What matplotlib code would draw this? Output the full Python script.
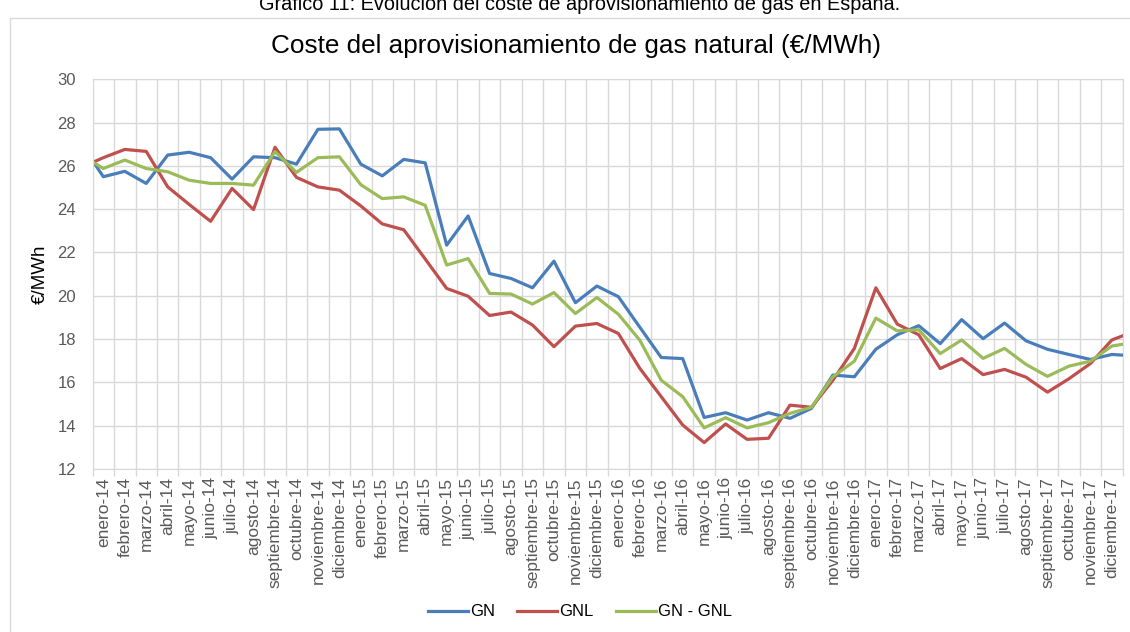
import numpy as np
import matplotlib
matplotlib.use('Agg')
import matplotlib.pyplot as plt
from matplotlib.patches import Rectangle

plt.rcParams['font.family'] = ['Liberation Sans', 'DejaVu Sans']

# Month labels (48 categories)
meses = ['enero', 'febrero', 'marzo', 'abril', 'mayo', 'junio', 'julio',
         'agosto', 'septiembre', 'octubre', 'noviembre', 'diciembre']
anios = ['14', '15', '16', '17']
etiquetas = [m + '-' + a for a in anios for m in meses]

# Series values, dic-13 .. ene-18 (first and last points fall outside the axis)
gn = [26.98,
      25.50, 25.75, 25.19, 26.50, 26.63, 26.38, 25.39, 26.42, 26.38, 26.08, 27.69, 27.71,
      26.08, 25.54, 26.30, 26.14, 22.34, 23.69, 21.03, 20.80, 20.37, 21.60, 19.68, 20.45,
      19.96, 18.55, 17.15, 17.10, 14.38, 14.60, 14.26, 14.60, 14.34, 14.80, 16.34, 16.26,
      17.53, 18.20, 18.62, 17.79, 18.90, 18.02, 18.74, 17.92, 17.53, 17.29, 17.06, 17.29,
      17.23]
gnl = [25.94,
       26.38, 26.76, 26.67, 25.03, 24.22, 23.44, 24.96, 23.98, 26.86, 25.47, 25.03, 24.88,
       24.15, 23.32, 23.05, 21.70, 20.34, 19.98, 19.09, 19.25, 18.65, 17.65, 18.60, 18.72,
       18.26, 16.65, 15.34, 14.03, 13.22, 14.08, 13.37, 13.42, 14.95, 14.85, 16.10, 17.57,
       20.37, 18.69, 18.20, 16.64, 17.10, 16.36, 16.60, 16.24, 15.55, 16.17, 16.87, 17.96,
       18.34]
gn_gnl = [26.50,
          25.88, 26.27, 25.88, 25.73, 25.34, 25.19, 25.19, 25.11, 26.66, 25.70, 26.38, 26.42,
          25.13, 24.49, 24.57, 24.18, 21.42, 21.72, 20.11, 20.08, 19.62, 20.15, 19.18, 19.92,
          19.15, 17.95, 16.10, 15.34, 13.90, 14.37, 13.90, 14.14, 14.57, 14.85, 16.26, 16.98,
          18.97, 18.38, 18.43, 17.33, 17.96, 17.11, 17.57, 16.83, 16.28, 16.75, 16.98, 17.68,
          17.84]
yticks = list(range(12, 31, 2))

x = np.arange(-1, len(etiquetas) + 1)
n = len(etiquetas)

fig = plt.figure(figsize=(11.3, 6.32), dpi=100)
ax = fig.add_axes([92.6 / 1130, 1 - 469 / 632, 1030 / 1130, (469 - 79.3) / 632])

# outer chart frame
fig.patches.append(Rectangle((10 / 1130, -0.01), 1.0, 1 - 18 / 632 + 0.01,
                             transform=fig.transFigure, fill=False,
                             edgecolor='#d9d9d9', lw=1))

ax.plot(x, gn, color='#4a7ebb', lw=2.3, label='GN', solid_joinstyle='round')
ax.plot(x, gnl, color='#c0504d', lw=2.3, label='GNL', solid_joinstyle='round')
ax.plot(x, gn_gnl, color='#9bbb59', lw=2.3, label='GN - GNL', solid_joinstyle='round')

ax.set_xlim(-0.5, n - 0.5)
ax.set_ylim(12, 30)
ax.set_yticks(yticks)
ax.set_xticks(np.arange(n))
ax.set_xticklabels(etiquetas, rotation=90, fontsize=12.5, color='#595959')
ax.set_xticks(np.arange(n + 1) - 0.5, minor=True)
ax.tick_params(axis='x', which='major', length=0, pad=6)
ax.tick_params(axis='x', which='minor', length=5, color='#d9d9d9', width=1)
ax.tick_params(axis='y', length=0, pad=12, labelsize=12, labelcolor='#595959')

ax.grid(axis='y', color='#d9d9d9', lw=1)
ax.grid(axis='x', which='minor', color='#d9d9d9', lw=1)
ax.set_axisbelow(True)
for s in ax.spines.values():
    s.set_color('#d9d9d9')

ax.set_ylabel('€/MWh', fontsize=13.5, labelpad=6)

fig.text(0.513, 1 - 10 / 632, 'Gráfico 11: Evolución del coste de aprovisionamiento de gas en España.',
         ha='center', va='baseline', fontsize=14.3)
fig.text(0.51, 1 - 46 / 632, 'Coste del aprovisionamiento de gas natural (€/MWh)',
         ha='center', va='center', fontsize=18.8)

fig.legend(loc='center', bbox_to_anchor=(580 / 1130, 1 - 612 / 632), ncol=3,
           frameon=False, fontsize=12, handlelength=2.4, handletextpad=0.15,
           columnspacing=1.3)

fig.savefig('out.png', dpi=100)
